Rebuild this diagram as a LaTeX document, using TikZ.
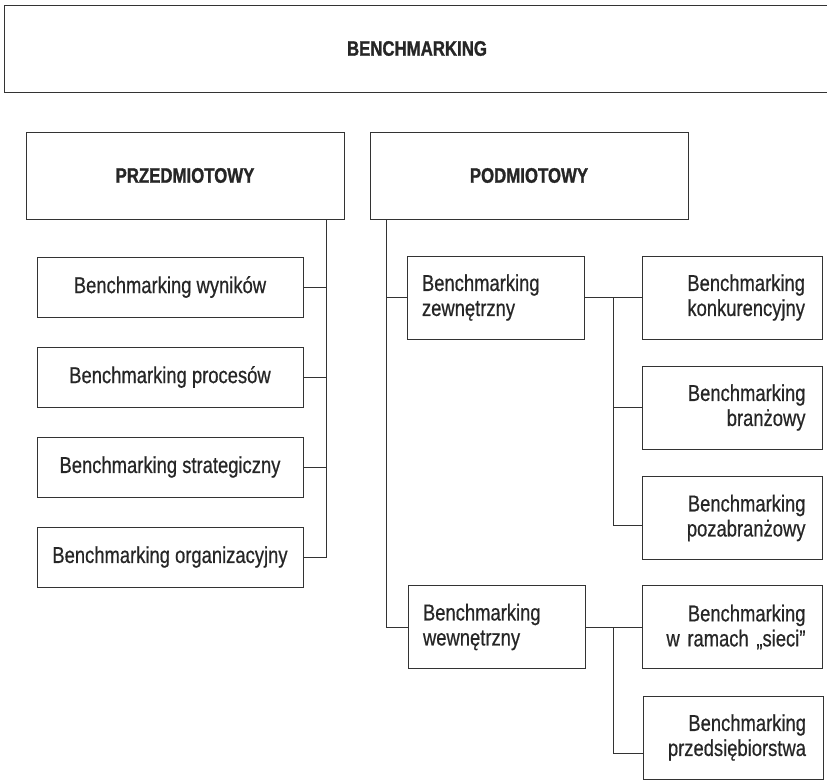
\documentclass[tikz,border=0pt]{standalone}
\usepackage{fontspec}
\setmainfont[FakeStretch=0.8,
  UprightFeatures={FakeBold=0.6},
  BoldFeatures={FakeBold=1.2}]{Liberation Sans}
\usepackage{tikz}
\usetikzlibrary{calc}

\tikzset{
  box/.style={draw=black!80, line width=0.9pt, inner sep=0pt, text=black!85,
    font=\fontsize{23}{25}\selectfont},
  headbox/.style={box, minimum height=87pt, font=\fontsize{21}{24}\selectfont\bfseries},
  leftbox/.style={box, minimum width=266pt, minimum height=60pt},
  subbox/.style={box, minimum width=177pt, minimum height=83pt, text width=147pt, align=left},
  kindbox/.style={box, minimum width=180pt, minimum height=83pt, text width=146pt, align=right},
  link/.style={draw=black!80, line width=0.9pt}
}

\begin{document}
\begin{tikzpicture}[x=1pt, y=-1pt]
\useasboundingbox (0,0) rectangle (827,779);

% main heads
\node[headbox, minimum width=826pt] (bench) at (417,48.5) {BENCHMARKING};
\node[headbox, minimum width=318pt] (przed) at (185,175.5) {PRZEDMIOTOWY};
\node[headbox, minimum width=318pt] (podm) at (529,175.5) {PODMIOTOWY};

% left column
\node[leftbox] (wyn) at (170,287) {Benchmarking wyników};
\node[leftbox] (proc) at (170,377) {Benchmarking procesów};
\node[leftbox] (strat) at (170,467) {Benchmarking strategiczny};
\node[leftbox] (org) at (170,557) {Benchmarking organizacyjny};

% right column
\node[subbox] (zew) at (495.5,297.5) {Benchmarking\\zewnętrzny};
\node[subbox] (wew) at (496.5,627) {Benchmarking\\wewnętrzny};

\node[kindbox] (konk) at (732,297.5) {Benchmarking\\konkurencyjny};
\node[kindbox] (bran) at (732.5,407.5) {Benchmarking\\branżowy};
\node[kindbox] (pozab) at (732.5,518) {Benchmarking\\pozabranżowy};
\node[kindbox] (siec) at (732.5,627) {Benchmarking\\w ramach „sieci”};
\node[kindbox] (przeds) at (733,737.5) {Benchmarking\\przedsiębiorstwa};

% links
\coordinate (ltop) at (326,219);
\draw[link] (ltop) |- (org.east);
\foreach \n in {wyn,proc,strat}
  \draw[link] (\n.east) -- (\n.east -| ltop);

\coordinate (rtop) at (386,219);
\draw[link] (rtop) |- (wew.west);
\draw[link] (zew.west) -- (zew.west -| rtop);

\draw[link] (zew.east) -- (konk.west);
\coordinate (zsplit) at ($(zew.east)!0.5!(konk.west)$);
\draw[link] (zsplit) |- (bran.west);
\draw[link] (zsplit) |- ([yshift=-7pt]pozab.west);

\draw[link] (wew.east) -- (siec.west);
\coordinate (wsplit) at ($(wew.east)!0.5!(siec.west)$);
\draw[link] (wsplit) |- ([yshift=-15.5pt]przeds.west);
\end{tikzpicture}
\end{document}
